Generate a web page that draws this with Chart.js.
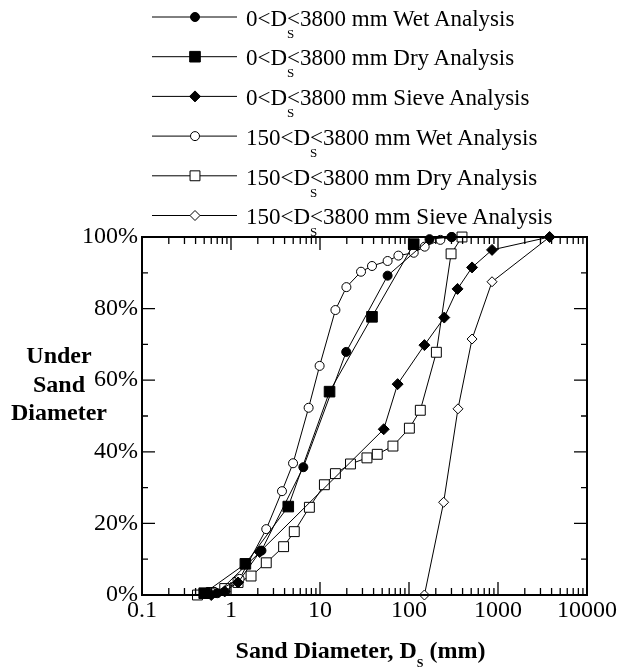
<!DOCTYPE html>
<html><head><meta charset="utf-8">
<script src="https://cdn.jsdelivr.net/npm/chart.js@4/dist/chart.umd.min.js"></script>
<style>
html,body{margin:0;padding:0;background:#fff;}
#wrap{position:relative;width:621px;height:668px;overflow:hidden;background:#fff;}
canvas{position:absolute;left:0;top:0;}
.t{position:absolute;font-family:"Liberation Serif","Times New Roman",serif;color:#000;white-space:nowrap;}
.lg{font-size:23px;line-height:23px;left:246px;}
.s{position:relative;display:inline-block;width:0;font-size:13px;line-height:13px;top:12px;}
.ttl{font-weight:bold;font-size:24px;}
.s2{position:relative;font-size:12px;line-height:12px;top:9px;}
</style></head>
<body><div id="wrap">
<canvas id="c" width="621" height="668"></canvas>
<div id="legend"></div>
<div class="t ttl" style="left:-1px;width:120px;text-align:center;line-height:28.5px;top:341px;">Under<br>Sand<br>Diameter</div>
<div class="t ttl" style="left:360.5px;transform:translateX(-50%);line-height:24px;top:638px;">Sand Diameter, D<span class="s2">S</span> (mm)</div>
</div>
<script>
// ---- data ----
const legendLabels = [
  ['0<D','<3800 mm Wet Analysis'],
  ['0<D','<3800 mm Dry Analysis'],
  ['0<D','<3800 mm Sieve Analysis'],
  ['150<D','<3800 mm Wet Analysis'],
  ['150<D','<3800 mm Dry Analysis'],
  ['150<D','<3800 mm Sieve Analysis']
];
const xTickLabels = ['0.1','1','10','100','1000','10000'];
const xTickValues = [0.1,1,10,100,1000,10000];
const yTickValues = [0,20,40,60,80,100];
const yTickLabels = ['0%','20%','40%','60%','80%','100%'];

const wet0X = [0.7, 2.2, 6.5, 19.7, 57.5, 170, 300];
const wet0Y = [0.5, 12.4, 35.7, 67.9, 89.2, 99.4, 100];
const dry0X = [0.5, 1.45, 4.4, 12.8, 38.4, 113];
const dry0Y = [0.5, 8.7, 24.7, 56.8, 77.7, 98];
const sieve0X = [0.6, 0.85, 1.2, 2.1, 52, 74.5, 149, 249, 351, 511, 857, 3800];
const sieve0Y = [0, 1, 3.5, 12, 46.3, 58.9, 69.8, 77.5, 85.5, 91.5, 96.4, 100];
const wet150X = [0.63, 1.25, 2.49, 3.74, 4.98, 7.45, 9.9, 14.9, 19.8, 28.9, 38.4, 57.5, 76, 113, 150, 225, 304];
const wet150Y = [0.5, 4.5, 18.4, 29, 36.8, 52.3, 64, 79.6, 86, 90.3, 91.9, 93.3, 94.8, 95.6, 97.3, 99.2, 100];
const dry150X = [0.42, 0.6, 0.85, 1.2, 1.68, 2.49, 3.9, 5.14, 7.6, 11.2, 14.9, 22, 33.7, 44, 66, 101, 134, 203, 297, 394];
const dry150Y = [0, 0.7, 1.8, 3.5, 5.3, 9.0, 13.5, 17.7, 24.5, 30.8, 33.9, 36.6, 38.3, 39.3, 41.6, 46.6, 51.6, 67.8, 95.3, 100];
const sieve150X = [149, 245, 355, 511, 857, 3800];
const sieve150Y = [0, 25.9, 52, 71.5, 87.5, 100];

const pts = (xs, ys) => xs.map((x, i) => ({x, y: ys[i]}));

function ds(label, xs, ys, style, radius, filled) {
  return {
    label, data: pts(xs, ys), showLine: true,
    borderColor: '#000', borderWidth: 1, backgroundColor: filled ? '#000' : '#fff',
    pointStyle: style, pointRadius: radius, pointHoverRadius: radius,
    pointBackgroundColor: filled ? '#000' : '#fff', pointBorderColor: '#000', pointBorderWidth: 1,
    clip: false, tension: 0
  };
}

const datasets = [
  ds(legendLabels[0].join('S'), wet0X, wet0Y, 'circle', 4.5, true),
  ds(legendLabels[1].join('S'), dry0X, dry0Y, 'rect', 7.5, true),
  ds(legendLabels[2].join('S'), sieve0X, sieve0Y, 'rectRot', 5.5, true),
  ds(legendLabels[3].join('S'), wet150X, wet150Y, 'circle', 4.5, false),
  ds(legendLabels[4].join('S'), dry150X, dry150Y, 'rect', 7, false),
  ds(legendLabels[5].join('S'), sieve150X, sieve150Y, 'rectRot', 5, false)
];

// legend text (HTML, with subscript)
const legendRowY = i => 17 + 39.7 * i;
const lg = document.getElementById('legend');
legendLabels.forEach((p, i) => {
  const d = document.createElement('div');
  d.className = 't lg';
  d.style.top = (legendRowY(i) - 10.3) + 'px';
  d.innerHTML = p[0].replace(/</g,'&lt;') + '<span class="s">S</span>' + p[1].replace(/</g,'&lt;');
  lg.appendChild(d);
});

const framePlugin = {
  id: 'frame',
  afterDraw(chart) {
    const {ctx, chartArea: a, scales: {x, y}} = chart;
    ctx.save();
    ctx.strokeStyle = '#000';
    ctx.lineWidth = 1.3;
    ctx.beginPath();
    for (let e = -1; e < 4; e++) {
      for (let m = 1; m < 10; m++) {
        const v = m * Math.pow(10, e);
        if (v < 0.1 || v > 10000) continue;
        const px = x.getPixelForValue(v);
        const L = m === 1 ? 13 : 7;
        ctx.moveTo(px, a.bottom); ctx.lineTo(px, a.bottom - L);
        ctx.moveTo(px, a.top); ctx.lineTo(px, a.top + L);
      }
    }
    for (let v = 0; v <= 100; v += 10) {
      const py = y.getPixelForValue(v);
      const L = v % 20 === 0 ? 13 : 6;
      ctx.moveTo(a.left, py); ctx.lineTo(a.left + L, py);
      ctx.moveTo(a.right, py); ctx.lineTo(a.right - L, py);
    }
    ctx.stroke();
    ctx.lineWidth = 2;
    ctx.strokeRect(a.left, a.top, a.right - a.left, a.bottom - a.top);
    // legend markers
    chart.data.datasets.forEach((d, i) => {
      const yy = legendRowY(i);
      ctx.lineWidth = 1;
      ctx.strokeStyle = '#000';
      ctx.beginPath(); ctx.moveTo(152, yy); ctx.lineTo(237, yy); ctx.stroke();
      ctx.fillStyle = d.pointBackgroundColor;
      ctx.strokeStyle = d.pointBorderColor;
      Chart.helpers.drawPoint(ctx, {pointStyle: d.pointStyle, radius: d.pointRadius, rotation: 0, borderWidth: 1}, 195, yy);
    });
    ctx.restore();
  }
};

const tickFont = {family: '"Liberation Serif", "Times New Roman", serif', size: 24};

new Chart(document.getElementById('c'), {
  type: 'scatter',
  data: {datasets},
  options: {
    responsive: false, animation: false, devicePixelRatio: 1,
    layout: {padding: {top: 237, right: 34, left: 0, bottom: 0}},
    plugins: {legend: {display: false}, tooltip: {enabled: false}},
    scales: {
      x: {
        type: 'logarithmic', min: 0.1, max: 10000,
        afterBuildTicks: s => { s.ticks = xTickValues.map(v => ({value: v, major: true})); },
        afterFit: s => { s.height = 73; },
        grid: {display: false, drawTicks: false}, border: {display: false},
        ticks: {autoSkip: false, maxRotation: 0, color: '#000', font: tickFont, padding: 1,
          callback: (v, i) => xTickLabels[i]}
      },
      y: {
        type: 'linear', min: 0, max: 100,
        afterBuildTicks: s => { s.ticks = yTickValues.map(v => ({value: v})); },
        afterFit: s => { s.width = 142; },
        grid: {display: false, drawTicks: false}, border: {display: false},
        ticks: {color: '#000', font: tickFont, padding: 4, callback: (v, i) => yTickLabels[i]}
      }
    }
  },
  plugins: [framePlugin]
});
</script>
</body></html>
